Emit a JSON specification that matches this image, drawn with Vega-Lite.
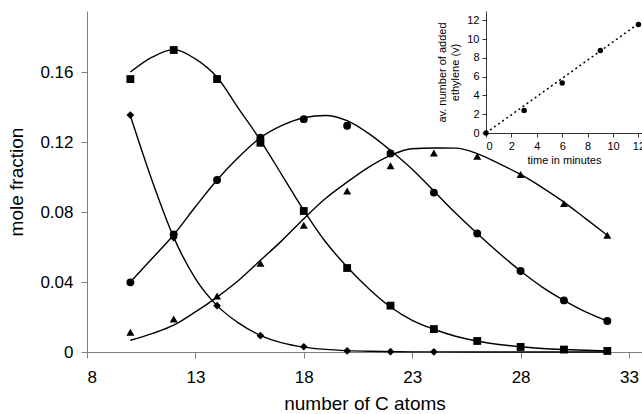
{
  "$schema": "https://vega.github.io/schema/vega-lite/v6.json",
  "autosize": {"type": "none"},
  "width": 555,
  "height": 341,
  "padding": {"left": 87, "top": 11, "right": 0, "bottom": 62},
  "background": "white",
  "config": {
    "view": {"stroke": null},
    "font": "Liberation Sans",
    "axis": {"labelFont": "Liberation Sans", "titleFont": "Liberation Sans", "grid": false}
  },
  "datasets": {
    "points": [
      {"series": "3 min", "C": 10, "fraction": 0.1354},
      {"series": "3 min", "C": 12, "fraction": 0.0653},
      {"series": "3 min", "C": 14, "fraction": 0.0265},
      {"series": "3 min", "C": 16, "fraction": 0.0093},
      {"series": "3 min", "C": 18, "fraction": 0.003},
      {"series": "3 min", "C": 20, "fraction": 0.0007},
      {"series": "3 min", "C": 22, "fraction": 0.0002},
      {"series": "3 min", "C": 24, "fraction": 0.0001},
      {"series": "6 min", "C": 10, "fraction": 0.156},
      {"series": "6 min", "C": 12, "fraction": 0.1726},
      {"series": "6 min", "C": 14, "fraction": 0.156},
      {"series": "6 min", "C": 16, "fraction": 0.1196},
      {"series": "6 min", "C": 18, "fraction": 0.0806},
      {"series": "6 min", "C": 20, "fraction": 0.048},
      {"series": "6 min", "C": 22, "fraction": 0.0265},
      {"series": "6 min", "C": 24, "fraction": 0.0131},
      {"series": "6 min", "C": 26, "fraction": 0.0063},
      {"series": "6 min", "C": 28, "fraction": 0.0029},
      {"series": "6 min", "C": 30, "fraction": 0.0014},
      {"series": "6 min", "C": 32, "fraction": 0.0006},
      {"series": "9 min", "C": 10, "fraction": 0.0398},
      {"series": "9 min", "C": 12, "fraction": 0.0672},
      {"series": "9 min", "C": 14, "fraction": 0.0983},
      {"series": "9 min", "C": 16, "fraction": 0.1225},
      {"series": "9 min", "C": 18, "fraction": 0.1331},
      {"series": "9 min", "C": 20, "fraction": 0.1293},
      {"series": "9 min", "C": 22, "fraction": 0.1135},
      {"series": "9 min", "C": 24, "fraction": 0.0911},
      {"series": "9 min", "C": 26, "fraction": 0.0677},
      {"series": "9 min", "C": 28, "fraction": 0.0463},
      {"series": "9 min", "C": 30, "fraction": 0.0295},
      {"series": "9 min", "C": 32, "fraction": 0.0177},
      {"series": "12 min", "C": 10, "fraction": 0.0113},
      {"series": "12 min", "C": 12, "fraction": 0.0189},
      {"series": "12 min", "C": 14, "fraction": 0.032},
      {"series": "12 min", "C": 16, "fraction": 0.0507},
      {"series": "12 min", "C": 18, "fraction": 0.0724},
      {"series": "12 min", "C": 20, "fraction": 0.092},
      {"series": "12 min", "C": 22, "fraction": 0.1065},
      {"series": "12 min", "C": 24, "fraction": 0.1137},
      {"series": "12 min", "C": 26, "fraction": 0.1118},
      {"series": "12 min", "C": 28, "fraction": 0.1015},
      {"series": "12 min", "C": 30, "fraction": 0.0848},
      {"series": "12 min", "C": 32, "fraction": 0.0667}
    ],
    "curves": [
      {"series": "3 min", "C": 10, "fraction": 0.135},
      {"series": "3 min", "C": 11, "fraction": 0.098},
      {"series": "3 min", "C": 12, "fraction": 0.0655},
      {"series": "3 min", "C": 13, "fraction": 0.042},
      {"series": "3 min", "C": 14, "fraction": 0.0265},
      {"series": "3 min", "C": 15, "fraction": 0.0165},
      {"series": "3 min", "C": 16, "fraction": 0.0095},
      {"series": "3 min", "C": 17, "fraction": 0.0052},
      {"series": "3 min", "C": 18, "fraction": 0.0028},
      {"series": "3 min", "C": 19, "fraction": 0.0015},
      {"series": "3 min", "C": 20, "fraction": 0.0008},
      {"series": "3 min", "C": 21, "fraction": 0.0004},
      {"series": "3 min", "C": 22, "fraction": 0.0002},
      {"series": "3 min", "C": 23, "fraction": 0.0001},
      {"series": "3 min", "C": 24, "fraction": 0.00005},
      {"series": "3 min", "C": 26, "fraction": 0.00001},
      {"series": "3 min", "C": 28, "fraction": 0},
      {"series": "3 min", "C": 30, "fraction": 0},
      {"series": "3 min", "C": 32, "fraction": 0},
      {"series": "6 min", "C": 10, "fraction": 0.16},
      {"series": "6 min", "C": 11, "fraction": 0.1685},
      {"series": "6 min", "C": 12, "fraction": 0.1728},
      {"series": "6 min", "C": 13, "fraction": 0.1675},
      {"series": "6 min", "C": 14, "fraction": 0.157},
      {"series": "6 min", "C": 15, "fraction": 0.139},
      {"series": "6 min", "C": 16, "fraction": 0.121},
      {"series": "6 min", "C": 17, "fraction": 0.101},
      {"series": "6 min", "C": 18, "fraction": 0.081},
      {"series": "6 min", "C": 19, "fraction": 0.063},
      {"series": "6 min", "C": 20, "fraction": 0.0486},
      {"series": "6 min", "C": 21, "fraction": 0.0362},
      {"series": "6 min", "C": 22, "fraction": 0.0257},
      {"series": "6 min", "C": 23, "fraction": 0.0181},
      {"series": "6 min", "C": 24, "fraction": 0.013},
      {"series": "6 min", "C": 25, "fraction": 0.009},
      {"series": "6 min", "C": 26, "fraction": 0.0063},
      {"series": "6 min", "C": 27, "fraction": 0.0043},
      {"series": "6 min", "C": 28, "fraction": 0.003},
      {"series": "6 min", "C": 29, "fraction": 0.002},
      {"series": "6 min", "C": 30, "fraction": 0.0014},
      {"series": "6 min", "C": 31, "fraction": 0.001},
      {"series": "6 min", "C": 32, "fraction": 0.0006},
      {"series": "9 min", "C": 10, "fraction": 0.04},
      {"series": "9 min", "C": 11, "fraction": 0.0534},
      {"series": "9 min", "C": 12, "fraction": 0.067},
      {"series": "9 min", "C": 13, "fraction": 0.083},
      {"series": "9 min", "C": 14, "fraction": 0.0983},
      {"series": "9 min", "C": 15, "fraction": 0.1114},
      {"series": "9 min", "C": 16, "fraction": 0.1225},
      {"series": "9 min", "C": 17, "fraction": 0.1295},
      {"series": "9 min", "C": 18, "fraction": 0.1339},
      {"series": "9 min", "C": 19, "fraction": 0.1352},
      {"series": "9 min", "C": 20, "fraction": 0.1322},
      {"series": "9 min", "C": 21, "fraction": 0.1248},
      {"series": "9 min", "C": 22, "fraction": 0.1152},
      {"series": "9 min", "C": 23, "fraction": 0.1045},
      {"series": "9 min", "C": 24, "fraction": 0.092},
      {"series": "9 min", "C": 25, "fraction": 0.0794},
      {"series": "9 min", "C": 26, "fraction": 0.0677},
      {"series": "9 min", "C": 27, "fraction": 0.0566},
      {"series": "9 min", "C": 28, "fraction": 0.0463},
      {"series": "9 min", "C": 29, "fraction": 0.0371},
      {"series": "9 min", "C": 30, "fraction": 0.0295},
      {"series": "9 min", "C": 31, "fraction": 0.0229},
      {"series": "9 min", "C": 32, "fraction": 0.0177},
      {"series": "12 min", "C": 10, "fraction": 0.0067},
      {"series": "12 min", "C": 11, "fraction": 0.0105},
      {"series": "12 min", "C": 12, "fraction": 0.0153},
      {"series": "12 min", "C": 13, "fraction": 0.0229},
      {"series": "12 min", "C": 14, "fraction": 0.0314},
      {"series": "12 min", "C": 15, "fraction": 0.041},
      {"series": "12 min", "C": 16, "fraction": 0.0524},
      {"series": "12 min", "C": 17, "fraction": 0.0638},
      {"series": "12 min", "C": 18, "fraction": 0.0762},
      {"series": "12 min", "C": 19, "fraction": 0.0877},
      {"series": "12 min", "C": 20, "fraction": 0.0971},
      {"series": "12 min", "C": 21, "fraction": 0.1057},
      {"series": "12 min", "C": 22, "fraction": 0.1124},
      {"series": "12 min", "C": 23, "fraction": 0.1162},
      {"series": "12 min", "C": 24, "fraction": 0.1166},
      {"series": "12 min", "C": 25, "fraction": 0.1165},
      {"series": "12 min", "C": 26, "fraction": 0.1134},
      {"series": "12 min", "C": 27, "fraction": 0.1077},
      {"series": "12 min", "C": 28, "fraction": 0.1015},
      {"series": "12 min", "C": 29, "fraction": 0.094},
      {"series": "12 min", "C": 30, "fraction": 0.0857},
      {"series": "12 min", "C": 31, "fraction": 0.0762},
      {"series": "12 min", "C": 32, "fraction": 0.0667}
    ],
    "inset": [
      {"time": 0, "v": 0},
      {"time": 3, "v": 2.41},
      {"time": 6, "v": 5.33},
      {"time": 9, "v": 8.78},
      {"time": 12, "v": 11.55}
    ],
    "fit": [
      {"time": 0, "v": 0},
      {"time": 12, "v": 11.65}
    ]
  },
  "layer": [
    {
      "layer": [
        {
          "data": {"name": "curves"},
          "mark": {"type": "line", "interpolate": "monotone", "color": "black", "strokeWidth": 1.4},
          "encoding": {
            "x": {"field": "C", "type": "quantitative",
                  "scale": {"domain": [8, 33.6], "nice": false, "zero": false},
                  "axis": {"values": [8, 13, 18, 23, 28, 33], "title": "number of C atoms",
                           "domainColor": "#808080", "tickColor": "#808080", "tickSize": 6,
                           "labelFontSize": 17, "labelColor": "black", "labelPadding": 11,
                           "titleFontSize": 19, "titleFontWeight": "normal", "titleColor": "black", "titlePadding": 9}},
            "y": {"field": "fraction", "type": "quantitative",
                  "scale": {"domain": [0, 0.1949], "nice": false},
                  "axis": {"values": [0, 0.04, 0.08, 0.12, 0.16], "format": "~g", "title": "mole fraction",
                           "domainColor": "#808080", "tickColor": "#808080", "tickSize": 6,
                           "labelFontSize": 17, "labelColor": "black", "labelPadding": 8,
                           "titleFontSize": 19, "titleFontWeight": "normal", "titleColor": "black", "titlePadding": 13}},
            "detail": {"field": "series"}
          }
        },
        {
          "data": {"name": "points"},
          "mark": {"type": "point", "filled": true, "color": "black", "opacity": 1},
          "encoding": {
            "x": {"field": "C", "type": "quantitative"},
            "y": {"field": "fraction", "type": "quantitative"},
            "shape": {"field": "series", "type": "nominal",
                      "scale": {"domain": ["3 min", "6 min", "9 min", "12 min"],
                                "range": ["diamond", "square", "circle", "triangle-up"]},
                      "legend": null},
            "size": {"field": "series", "type": "nominal",
                     "scale": {"domain": ["3 min", "6 min", "9 min", "12 min"],
                               "range": [60, 64, 64, 95]},
                     "legend": null}
          }
        },
        {
          "mark": {"type": "rule", "color": "#808080", "strokeWidth": 1},
          "encoding": {"y": {"datum": 0.1949}}
        }
      ]
    },
    {
      "layer": [
        {
          "data": {"name": "fit"},
          "mark": {"type": "line", "color": "black", "strokeWidth": 1.5, "strokeDash": [2, 3]},
          "encoding": {
            "x": {"field": "time", "type": "quantitative",
                  "scale": {"domain": [0, 12.28], "range": [399, 555], "nice": false, "zero": false},
                  "axis": {"orient": "bottom", "offset": -219, "values": [0, 2, 4, 6, 8, 10, 12],
                           "title": "time in minutes", "domainColor": "#333", "tickColor": "#333", "tickSize": 4,
                           "labelFontSize": 11, "labelColor": "black", "labelPadding": 3,
                           "titleFontSize": 11, "titleFontWeight": "normal", "titleColor": "black", "titlePadding": 3}},
            "y": {"field": "v", "type": "quantitative",
                  "scale": {"domain": [0, 13], "range": [122, 0], "nice": false},
                  "axis": {"orient": "left", "offset": -399, "values": [0, 2, 4, 6, 8, 10, 12],
                           "title": ["av. number of added", "ethylene (v)"], "domainColor": "#333", "tickColor": "#333", "tickSize": 4,
                           "labelFontSize": 11, "labelColor": "black", "labelPadding": 3,
                           "titleFontSize": 11, "titleFontWeight": "normal", "titleColor": "black", "titlePadding": 6}}
          }
        },
        {
          "data": {"name": "inset"},
          "mark": {"type": "circle", "color": "black", "opacity": 1, "size": 30},
          "encoding": {
            "x": {"field": "time", "type": "quantitative"},
            "y": {"field": "v", "type": "quantitative"}
          }
        }
      ]
    }
  ],
  "resolve": {"scale": {"x": "independent", "y": "independent"}, "axis": {"x": "independent", "y": "independent"}}
}
